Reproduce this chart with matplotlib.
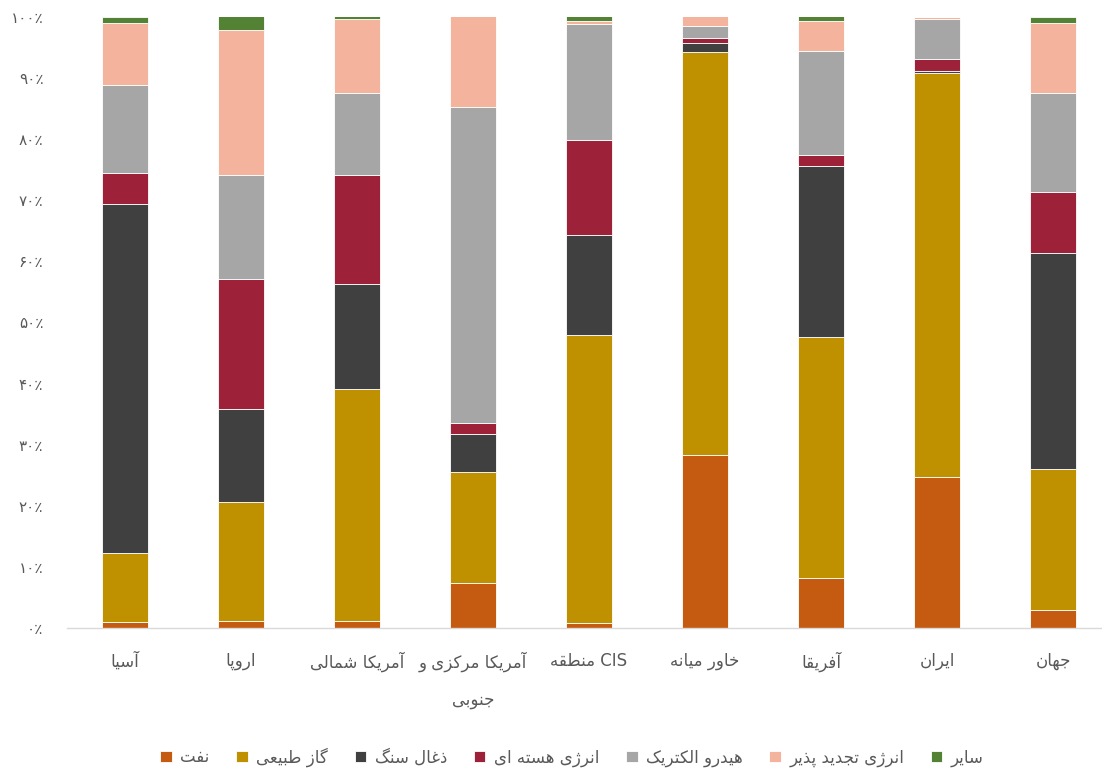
import matplotlib
matplotlib.use("Agg")
import matplotlib.pyplot as plt
import numpy as np

# ---------------- data ----------------
categories = ["آسیا", "اروپا", "آمریکا شمالی", "آمریکا مرکزی و جنوبی", "منطقه CIS",
              "خاور میانه", "آفریقا", "ایران", "جهان"]
series_names = ["نفت", "گاز طبیعی", "ذغال سنگ", "انرژی هسته ای", "هیدرو الکتریک",
                "انرژی تجدید پذیر", "سایر"]
oil     = [1.0, 1.1, 1.1, 7.4, 0.8, 28.3, 8.2, 24.7, 2.9]
gas     = [11.3, 19.6, 38.0, 18.2, 47.1, 65.9, 39.4, 66.2, 23.2]
coal    = [57.1, 15.1, 17.2, 6.1, 16.5, 1.6, 28.0, 0.3, 35.2]
nuclear = [5.1, 21.4, 17.8, 1.8, 15.5, 0.7, 1.8, 1.9, 10.0]
hydro   = [14.4, 17.0, 13.4, 51.7, 19.0, 2.1, 17.0, 6.6, 16.2]
renew   = [10.1, 23.7, 12.1, 14.9, 0.5, 1.5, 4.9, 0.3, 11.5]
other   = [1.0, 2.3, 0.6, 0.3, 0.8, 0.0, 1.0, 0.0, 1.0]
yticks = [0, 10, 20, 30, 40, 50, 60, 70, 80, 90, 100]

colors = ["#C55A11", "#BF9000", "#404040", "#9E213A", "#A6A6A6", "#F4B39D", "#548235"]

# ---------------- Persian shaping helpers ----------------
FORMS = {
    'ا': ('\uFE8D', '\uFE8E', None, None),
    'آ': ('\uFE81', '\uFE82', None, None),
    'ب': ('\uFE8F', '\uFE90', '\uFE91', '\uFE92'),
    'پ': ('\uFB56', '\uFB57', '\uFB58', '\uFB59'),
    'ت': ('\uFE95', '\uFE96', '\uFE97', '\uFE98'),
    'ج': ('\uFE9D', '\uFE9E', '\uFE9F', '\uFEA0'),
    'خ': ('\uFEA5', '\uFEA6', '\uFEA7', '\uFEA8'),
    'د': ('\uFEA9', '\uFEAA', None, None),
    'ذ': ('\uFEAB', '\uFEAC', None, None),
    'ر': ('\uFEAD', '\uFEAE', None, None),
    'ز': ('\uFEAF', '\uFEB0', None, None),
    'ژ': ('\uFB8A', '\uFB8B', None, None),
    'س': ('\uFEB1', '\uFEB2', '\uFEB3', '\uFEB4'),
    'ش': ('\uFEB5', '\uFEB6', '\uFEB7', '\uFEB8'),
    'ط': ('\uFEC1', '\uFEC2', '\uFEC3', '\uFEC4'),
    'ع': ('\uFEC9', '\uFECA', '\uFECB', '\uFECC'),
    'غ': ('\uFECD', '\uFECE', '\uFECF', '\uFED0'),
    'ف': ('\uFED1', '\uFED2', '\uFED3', '\uFED4'),
    'ق': ('\uFED5', '\uFED6', '\uFED7', '\uFED8'),
    'ک': ('\uFB8E', '\uFB8F', '\uFB90', '\uFB91'),
    'گ': ('\uFB92', '\uFB93', '\uFB94', '\uFB95'),
    'ل': ('\uFEDD', '\uFEDE', '\uFEDF', '\uFEE0'),
    'م': ('\uFEE1', '\uFEE2', '\uFEE3', '\uFEE4'),
    'ن': ('\uFEE5', '\uFEE6', '\uFEE7', '\uFEE8'),
    'ه': ('\uFEE9', '\uFEEA', '\uFEEB', '\uFEEC'),
    'و': ('\uFEED', '\uFEEE', None, None),
    'ی': ('\uFBFC', '\uFBFD', '\uFBFE', '\uFBFF'),
}


def shape(s):
    chars = list(s)
    out = []
    for i, c in enumerate(chars):
        if c not in FORMS:
            out.append(c)
            continue
        iso, fin, ini, med = FORMS[c]
        prev = chars[i - 1] if i > 0 else None
        nxt = chars[i + 1] if i + 1 < len(chars) else None
        jp = prev in FORMS and FORMS[prev][2] is not None
        jn = nxt in FORMS and ini is not None
        if jp and jn:
            out.append(med)
        elif jp:
            out.append(fin)
        elif jn:
            out.append(ini)
        else:
            out.append(iso)
    return ''.join(reversed(out))


def visual_label(s):
    if "CIS" in s:
        return shape(s.replace("CIS", "").strip()) + " CIS"
    if s == "آمریکا مرکزی و جنوبی":
        return shape("آمریکا مرکزی و") + "\n" + shape("جنوبی")
    return shape(s)


PDIG = "۰۱۲۳۴۵۶۷۸۹"


def pnum(v):
    return ''.join(PDIG[int(d)] for d in str(v)) + "٪"


# ---------------- plot ----------------
plt.rcParams['font.family'] = ['DejaVu Sans']
fig = plt.figure(figsize=(11.02, 7.80), dpi=100)
ax = fig.add_axes([67 / 1102, (780 - 628) / 780, (1102 - 67) / 1102, (628 - 17) / 780])

x = np.arange(len(categories))
data = [oil, gas, coal, nuclear, hydro, renew, other]
bottom = np.zeros(len(categories))
handles = []
for vals, col, name in zip(data, colors, series_names):
    vals = np.array(vals, dtype=float)
    b = ax.bar(x, vals, 0.4, bottom=bottom, color=col, edgecolor='white',
               linewidth=0.6, label=shape(name))
    handles.append(b)
    bottom += vals

ax.set_xlim(-0.5, (1102 - 125) / 116)
ax.set_ylim(0, 100)
ax.set_yticks(yticks)
ax.set_yticklabels([pnum(v) for v in yticks], fontsize=11, color='#595959')
ax.set_xticks(x)
ax.set_xticklabels([visual_label(c) for c in categories], fontsize=12, color='#595959',
                   linespacing=2.3)
ax.tick_params(axis='both', length=0)
ax.tick_params(axis='x', pad=17)
ax.tick_params(axis='y', pad=17)
for s in ['top', 'right', 'left']:
    ax.spines[s].set_visible(False)
ax.spines['bottom'].set_color('#D9D9D9')
ax.spines['bottom'].set_linewidth(1.0)

fig.legend(handles=handles, labels=[shape(n) for n in series_names],
           loc='center', bbox_to_anchor=(572 / 1102, (780 - 757) / 780), ncol=7,
           frameon=False, fontsize=12, handlelength=0.7, handleheight=0.7,
           handletextpad=0.5, columnspacing=1.6, labelcolor='#595959')

fig.savefig("out.png", dpi=100)
